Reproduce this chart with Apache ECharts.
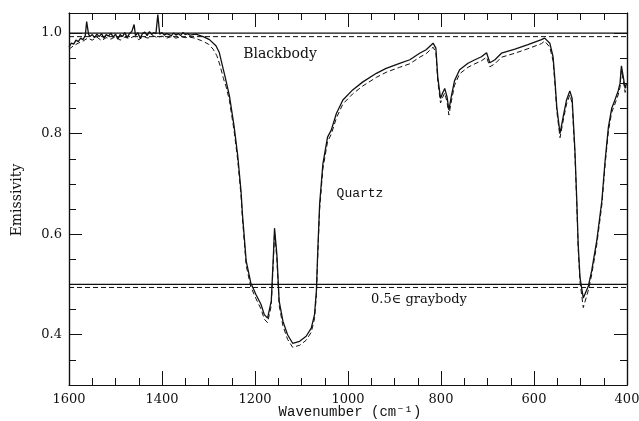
<!DOCTYPE html>
<html>
<head>
<meta charset="utf-8">
<script src="https://cdn.jsdelivr.net/npm/echarts@6/dist/echarts.min.js"></script>
<style>
  html, body { margin: 0; padding: 0; background: #fff; }
  #chart { width: 639px; height: 421px; }
</style>
</head>
<body>
<div id="chart"></div>
<script>
// Measured emissivity of quartz (solid) against wavenumber, cm^-1
const quartzWn = [
  1600, 1595, 1590, 1585, 1580, 1575, 1570, 1565, 1562, 1558, 1555, 1550, 1545, 1540, 1535,
  1530, 1525, 1520, 1515, 1510, 1505, 1500, 1495, 1490, 1485, 1480, 1475, 1470, 1465, 1460,
  1457, 1452, 1447, 1442, 1437, 1432, 1427, 1422, 1418, 1413, 1409, 1405, 1400, 1395, 1390,
  1385, 1380, 1375, 1370, 1365, 1360, 1355, 1350, 1345, 1340, 1327, 1309, 1298, 1284, 1277,
  1270, 1264, 1255, 1245, 1237, 1230, 1227, 1219, 1209, 1198, 1187, 1180, 1173, 1165, 1160,
  1158, 1153, 1148, 1140, 1130, 1119, 1104, 1090, 1079, 1072, 1068, 1065, 1061, 1054, 1044,
  1036, 1025, 1011, 990, 968, 939, 918, 889, 867, 846, 832, 817, 811, 807, 801,
  797, 792, 787, 783, 778, 771, 760, 742, 727, 713, 702, 695, 684, 670, 641,
  613, 584, 577, 566, 559, 555, 551, 544, 537, 530, 523, 518, 512, 508, 505,
  501, 494, 483, 476, 465, 454, 447, 440, 433, 426, 419, 415, 412, 408, 404, 401
];
const quartzEm = [
  0.972, 0.980, 0.978, 0.986, 0.983, 0.990, 0.987, 0.995, 1.023, 0.998, 0.993, 0.997, 0.991, 0.998, 0.993,
  0.999, 0.990, 0.997, 0.994, 1.000, 0.992, 0.998, 0.988, 0.997, 0.993, 1.001, 0.991, 0.999, 1.003, 1.017,
  0.995, 1.001, 0.990, 0.999, 1.002, 0.995, 1.003, 0.997, 1.001, 0.999, 1.037, 0.998, 1.001, 0.996, 0.999,
  0.997, 0.995, 1.000, 0.996, 0.999, 0.995, 1.001, 0.997, 0.999, 0.996, 0.998, 0.992, 0.987, 0.975, 0.962,
  0.935, 0.912, 0.875, 0.815, 0.755, 0.685, 0.640, 0.547, 0.503, 0.480, 0.460, 0.440, 0.433, 0.467, 0.567,
  0.612, 0.560, 0.467, 0.427, 0.400, 0.383, 0.387, 0.397, 0.413, 0.440, 0.487, 0.567, 0.660, 0.740, 0.793,
  0.807, 0.840, 0.867, 0.887, 0.903, 0.920, 0.930, 0.940, 0.947, 0.960, 0.967, 0.980, 0.970, 0.913, 0.870,
  0.880, 0.890, 0.873, 0.847, 0.873, 0.905, 0.927, 0.940, 0.947, 0.953, 0.961, 0.941, 0.947, 0.960, 0.968,
  0.977, 0.987, 0.990, 0.980, 0.953, 0.907, 0.853, 0.800, 0.835, 0.867, 0.885, 0.870, 0.767, 0.667, 0.580,
  0.513, 0.473, 0.497, 0.527, 0.587, 0.667, 0.747, 0.813, 0.850, 0.867, 0.885, 0.900, 0.935, 0.913, 0.890, 0.900
];

// Second (dashed) quartz measurement
const quartzDashWn = [
  1600, 1590, 1580, 1570, 1560, 1550, 1540, 1530, 1520, 1510, 1500, 1490, 1480, 1470, 1460,
  1450, 1440, 1430, 1420, 1410, 1400, 1390, 1380, 1370, 1360, 1350, 1340, 1330, 1315, 1300,
  1290, 1282, 1275, 1268, 1262, 1255, 1245, 1237, 1230, 1227, 1219, 1209, 1198, 1187, 1180,
  1173, 1165, 1160, 1158, 1153, 1148, 1140, 1130, 1119, 1104, 1090, 1079, 1072, 1068, 1065,
  1061, 1054, 1044, 1036, 1025, 1011, 990, 968, 939, 918, 889, 867, 846, 832, 817,
  811, 807, 801, 797, 792, 787, 783, 778, 771, 760, 742, 727, 713, 702, 695,
  684, 670, 641, 613, 584, 577, 566, 559, 555, 551, 544, 537, 530, 523, 518,
  512, 508, 505, 501, 494, 483, 476, 465, 454, 447, 440, 433, 426, 419, 415,
  412, 408, 404, 401
];
const quartzDashEm = [
  0.968, 0.975, 0.980, 0.984, 0.990, 0.986, 0.992, 0.985, 0.991, 0.988, 0.993, 0.986, 0.992, 0.989, 0.994,
  0.987, 0.993, 0.990, 0.995, 0.991, 0.994, 0.990, 0.993, 0.990, 0.993, 0.991, 0.992, 0.990, 0.985, 0.978,
  0.968, 0.955, 0.935, 0.910, 0.893, 0.866, 0.806, 0.746, 0.676, 0.631, 0.538, 0.495, 0.472, 0.451, 0.431,
  0.424, 0.458, 0.558, 0.603, 0.551, 0.458, 0.418, 0.391, 0.375, 0.379, 0.389, 0.405, 0.432, 0.478, 0.558,
  0.650, 0.730, 0.784, 0.799, 0.831, 0.859, 0.879, 0.895, 0.912, 0.922, 0.932, 0.939, 0.952, 0.959, 0.972,
  0.962, 0.905, 0.861, 0.871, 0.881, 0.863, 0.837, 0.863, 0.896, 0.919, 0.932, 0.939, 0.945, 0.952, 0.933,
  0.939, 0.952, 0.960, 0.969, 0.979, 0.984, 0.972, 0.945, 0.899, 0.845, 0.792, 0.827, 0.859, 0.877, 0.861,
  0.759, 0.659, 0.572, 0.504, 0.454, 0.489, 0.519, 0.579, 0.659, 0.739, 0.805, 0.842, 0.859, 0.877, 0.892,
  0.927, 0.905, 0.882, 0.892
];

// Reference levels: blackbody and half-emissivity graybody (solid and dashed)
const refWn = [1600, 400];
const blackbodySolid = [1.0, 1.0];
const blackbodyDash = [0.993, 0.993];
const graybodySolid = [0.5, 0.5];
const graybodyDash = [0.494, 0.494];

// Axis ticks
const yMajorTicks = [0.4, 0.6, 0.8, 1.0];
const yMinorTicks = [0.35, 0.45, 0.5, 0.55, 0.65, 0.7, 0.75, 0.85, 0.9, 0.95];

const zip = (xs, ys) => xs.map((x, i) => [x, ys[i]]);

const ink = '#111';
const serif = "'DejaVu Serif', serif";
const mono = "'Liberation Mono', 'DejaVu Sans Mono', monospace";

const xBase = {
  type: 'value', min: 400, max: 1600, interval: 200, inverse: true,
  axisLine: { show: true, lineStyle: { color: ink, width: 1.2 } },
  axisTick: { show: true, inside: true, length: 14, lineStyle: { color: ink, width: 1 } },
  minorTick: { show: true, splitNumber: 4, length: 7, lineStyle: { color: ink, width: 1 } },
  splitLine: { show: false }
};

function yAxis(pos, ticks, len, labels) {
  return {
    type: 'value', min: 0.3, max: 1.04, position: pos,
    axisLine: { show: true, lineStyle: { color: ink, width: 1.2 } },
    axisTick: { show: true, inside: true, length: len, customValues: ticks, lineStyle: { color: ink, width: 1 } },
    axisLabel: labels ? {
      show: true, customValues: yMajorTicks, margin: 7,
      fontFamily: serif, fontSize: 13, color: ink,
      formatter: v => v.toFixed(1)
    } : { show: false },
    splitLine: { show: false }
  };
}

function line(data, dashed, width) {
  return {
    type: 'line', data, showSymbol: false, symbol: 'none', animation: false,
    xAxisIndex: 0, yAxisIndex: 0, silent: true,
    lineStyle: { color: ink, width, type: dashed ? [5, 3] : 'solid' }
  };
}

const chart = echarts.init(document.getElementById('chart'), null, { renderer: 'canvas' });
chart.setOption({
  backgroundColor: '#fff',
  animation: false,
  grid: { left: 69, right: 12, top: 13, bottom: 36, containLabel: false, outerBoundsMode: 'none' },
  xAxis: [
    Object.assign({}, xBase, {
      position: 'bottom',
      axisLabel: { show: true, margin: 8, fontFamily: serif, fontSize: 13, color: ink, formatter: v => String(v) }
    }),
    Object.assign({}, xBase, { position: 'top', axisLabel: { show: false } })
  ],
  yAxis: [
    yAxis('left', yMajorTicks, 13, true),
    yAxis('left', yMinorTicks, 7, false),
    yAxis('right', yMajorTicks, 13, false),
    yAxis('right', yMinorTicks, 7, false)
  ],
  series: [
    line(zip(refWn, blackbodySolid), false, 1.2),
    line(zip(refWn, blackbodyDash), true, 1),
    line(zip(refWn, graybodySolid), false, 1.2),
    line(zip(refWn, graybodyDash), true, 1),
    line(zip(quartzDashWn, quartzDashEm), true, 1),
    line(zip(quartzWn, quartzEm), false, 1.3)
  ],
  graphic: [
    { type: 'text', x: 280, y: 54, style: { text: 'Blackbody', font: `14px ${serif}`, fill: ink, align: 'center', verticalAlign: 'middle' } },
    { type: 'text', x: 360, y: 194, style: { text: 'Quartz', font: `13px ${mono}`, fill: ink, align: 'center', verticalAlign: 'middle' } },
    { type: 'text', x: 419, y: 300, style: { text: '0.5\u2208 graybody', font: `13px ${serif}`, fill: ink, align: 'center', verticalAlign: 'middle' } },
    { type: 'text', x: 350, y: 412, style: { text: 'Wavenumber (cm\u207B\u00B9)', font: `14px ${mono}`, fill: ink, align: 'center', verticalAlign: 'middle' } },
    { type: 'text', x: 17, y: 200, rotation: Math.PI / 2, style: { text: 'Emissivity', font: `14px ${serif}`, fill: ink, align: 'center', verticalAlign: 'middle' } }
  ]
});
</script>
</body>
</html>
